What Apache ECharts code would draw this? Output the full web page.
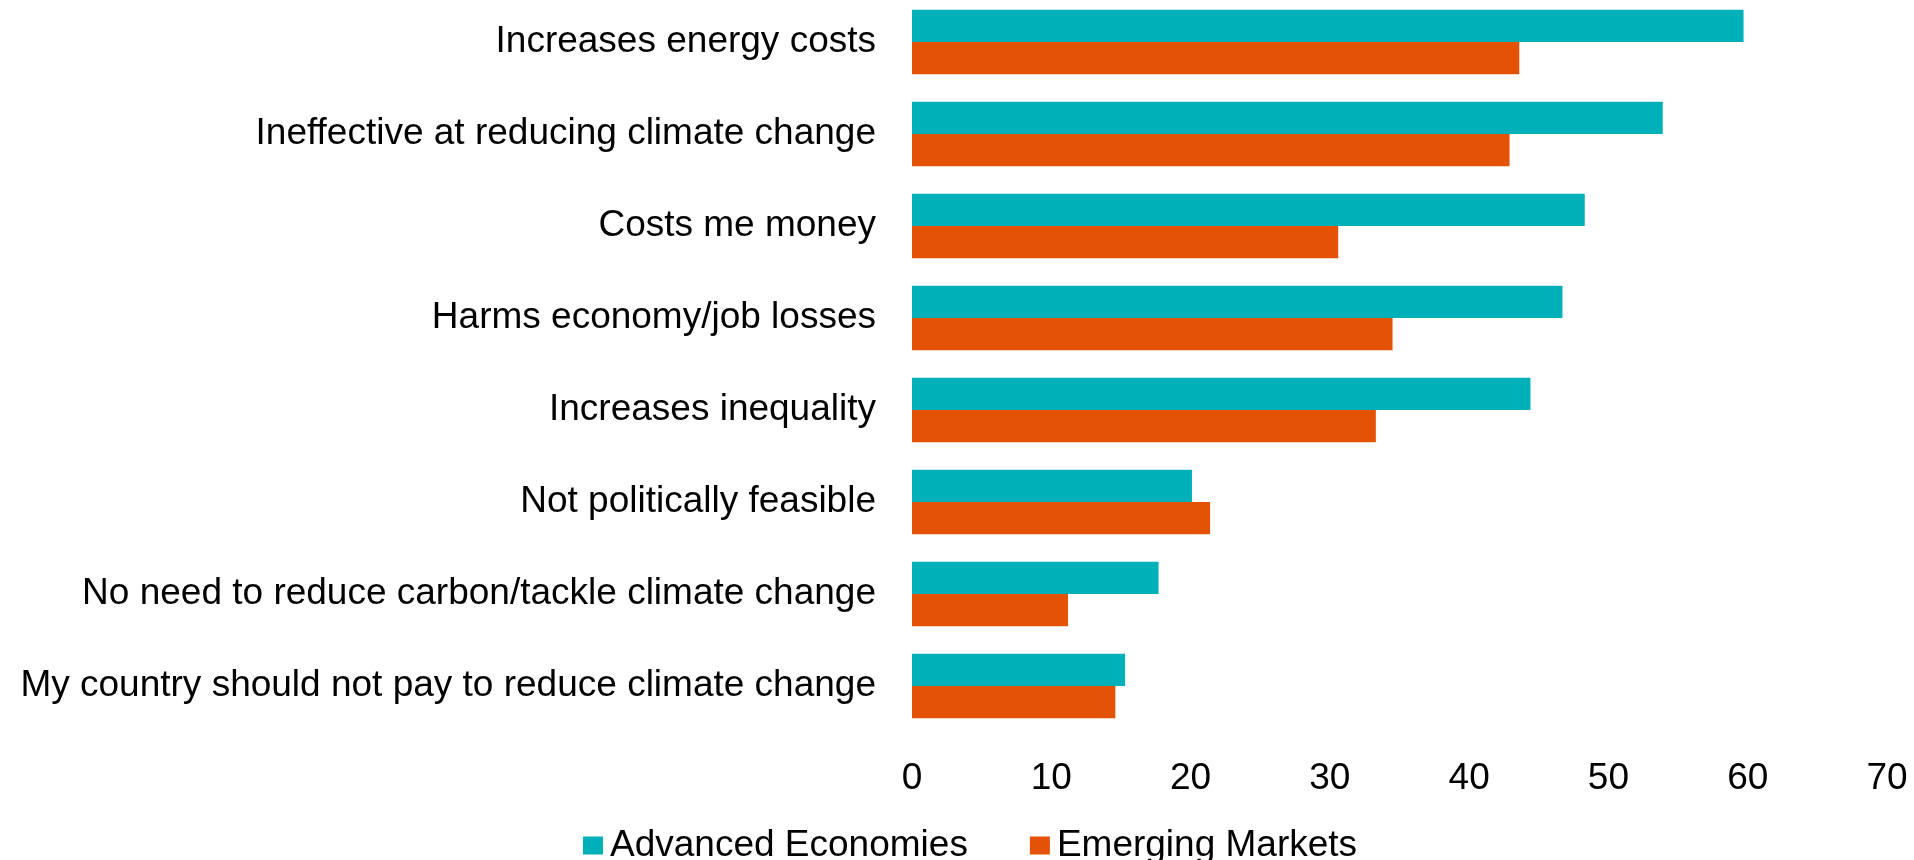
<!DOCTYPE html>
<html>
<head>
<meta charset="utf-8">
<script src="https://cdn.jsdelivr.net/npm/echarts@6/dist/echarts.min.js"></script>
<style>
html,body{margin:0;padding:0;background:#fff;}
#chart{width:1914px;height:860px;}
</style>
</head>
<body>
<div id="chart"></div>
<script>
const categories = [
  "Increases energy costs",
  "Ineffective at reducing climate change",
  "Costs me money",
  "Harms economy/job losses",
  "Increases inequality",
  "Not politically feasible",
  "No need to reduce carbon/tackle climate change",
  "My country should not pay to reduce climate change"
];
const advancedEconomies = [59.7, 53.9, 48.3, 46.7, 44.4, 20.1, 17.7, 15.3];
const emergingMarkets = [43.6, 42.9, 30.6, 34.5, 33.3, 21.4, 11.2, 14.6];
const seriesNames = ["Advanced Economies", "Emerging Markets"];
const xTicks = [0, 10, 20, 30, 40, 50, 60, 70];

const FONT = "'Liberation Sans', Arial, sans-serif";
const chart = echarts.init(document.getElementById('chart'), null, {renderer: 'canvas'});
chart.setOption({
  animation: false,
  textStyle: {fontFamily: FONT},
  grid: {left: 912, right: 27, top: -4, bottom: 128, containLabel: false, outerBoundsMode: 'none'},
  legend: {
    left: 578, top: 822,
    itemWidth: 20, itemHeight: 18, itemGap: 62,
    icon: 'rect',
    textStyle: {fontFamily: FONT, fontSize: 37, color: '#000', padding: [0, 0, 0, 2]},
    data: seriesNames
  },
  xAxis: {
    type: 'value',
    min: xTicks[0], max: xTicks[xTicks.length - 1], interval: 10,
    axisLine: {show: false}, axisTick: {show: false}, splitLine: {show: false},
    axisLabel: {fontFamily: FONT, fontSize: 37, color: '#000', margin: 28}
  },
  yAxis: {
    type: 'category', inverse: true, data: categories,
    axisLine: {show: false}, axisTick: {show: false},
    axisLabel: {fontFamily: FONT, fontSize: 37, color: '#000', margin: 36, padding: [5, 0, 0, 0]}
  },
  series: [
    {name: seriesNames[0], type: 'bar', data: advancedEconomies, barGap: '0%', barCategoryGap: '30%',
     itemStyle: {color: '#00B0B9'}},
    {name: seriesNames[1], type: 'bar', data: emergingMarkets, barGap: '0%', barCategoryGap: '30%',
     itemStyle: {color: '#E35205'}}
  ]
});
</script>
</body>
</html>
